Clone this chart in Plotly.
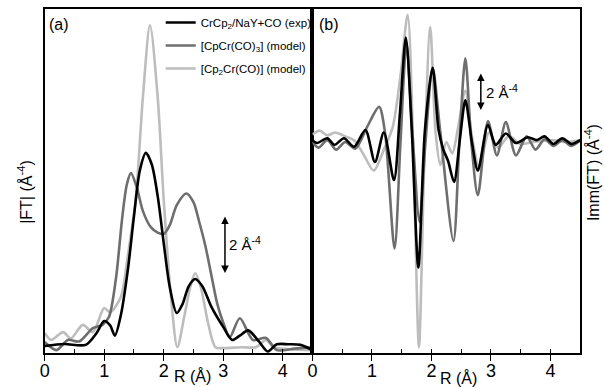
import plotly.graph_objects as go

# ---------------- data ----------------
# Panel (a): |FT|
a_exp_R = [0, 0.33, 0.69, 0.87, 1.0, 1.1, 1.18, 1.28, 1.4, 1.5, 1.6, 1.7, 1.8, 1.9, 2.0, 2.1, 2.22, 2.32, 2.42, 2.53, 2.65, 2.8, 3.0, 3.15, 3.28, 3.42, 3.6, 3.75, 3.9, 4.1, 4.3, 4.5]
a_exp_v = [0.24, 0.31, 0.28, 0.68, 1.1, 0.95, 0.6, 1.3, 2.9, 4.7, 6.3, 6.9, 6.5, 5.4, 3.8, 2.3, 1.38, 1.7, 2.3, 2.55, 2.3, 1.6, 0.9, 0.45, 0.6, 0.78, 0.4, 0.05, 0.3, 0.3, 0.28, 0.1]

a_m1_R = [0, 0.2, 0.39, 0.58, 0.81, 0.97, 1.08, 1.2, 1.3, 1.38, 1.45, 1.55, 1.65, 1.78, 1.9, 2.0, 2.1, 2.22, 2.38, 2.5, 2.6, 2.7, 2.8, 2.9, 3.0, 3.11, 3.28, 3.5, 3.72, 3.9, 4.2, 4.5]
a_m1_v = [0.38, 0.1, 0.45, 0.4, 0.86, 0.97, 1.24, 2.6, 4.6, 5.8, 6.2, 5.7, 4.9, 4.35, 4.15, 4.1, 4.4, 5.1, 5.5, 5.2, 4.5, 3.7, 2.7, 1.7, 1.05, 0.55, 1.2, 0.45, 0.52, 0.1, 0.15, 0.2]

a_m2_R = [0, 0.11, 0.31, 0.44, 0.64, 0.81, 1.0, 1.1, 1.28, 1.4, 1.53, 1.65, 1.77, 1.9, 2.0, 2.12, 2.23, 2.35, 2.45, 2.53, 2.62, 2.75, 2.87, 3.0, 3.3, 3.55, 3.72, 3.85, 4.2, 4.5]
a_m2_v = [0.69, 0.45, 0.72, 0.5, 0.97, 0.72, 1.55, 1.4, 1.93, 3.4, 5.3, 8.8, 11.3, 8.8, 5.3, 2.0, 0.2, 1.3, 2.3, 2.75, 2.3, 1.0, 0.2, 0.17, 0.2, 0.2, 0.45, 0.2, 0.12, 0.1]

# Panel (b): Imm(FT)
b_exp_R = [0, 0.08, 0.25, 0.37, 0.53, 0.7, 0.89, 1.05, 1.2, 1.37, 1.47, 1.57, 1.67, 1.78, 1.89, 2.02, 2.12, 2.2, 2.28, 2.38, 2.48, 2.57, 2.68, 2.78, 2.95, 3.08, 3.25, 3.42, 3.62, 3.77, 3.9, 4.05, 4.2, 4.35, 4.5]
b_exp_v = [0.1, -0.05, 0.2, -0.15, 0.2, -0.25, 0.63, -1.05, 0.5, -2.0, 1.5, 5.5, 0.6, -6.6, 0.6, 3.9, 0.63, -0.4, -1.0, -2.1, 0.2, 2.2, 0.0, -1.5, 0.9, -0.15, 0.45, -0.05, 0.25, 0.1, 0.3, -0.1, 0.2, -0.1, 0.1]

b_m1_R = [0, 0.1, 0.25, 0.4, 0.55, 0.72, 0.92, 1.12, 1.22, 1.38, 1.48, 1.58, 1.68, 1.8, 1.9, 2.02, 2.15, 2.37, 2.47, 2.57, 2.67, 2.78, 2.95, 3.1, 3.25, 3.42, 3.6, 3.75, 3.9, 4.05, 4.2, 4.35, 4.5]
b_m1_v = [0.0, -0.3, 0.1, -0.4, 0.0, -0.35, 0.8, 1.85, 0.5, -5.6, 0.0, 5.2, 0.5, -4.2, 0.0, 3.9, 0.5, -5.2, 0.0, 4.4, 0.0, -2.8, 1.1, -0.7, 1.05, -0.7, 0.3, -0.4, 0.15, -0.2, 0.1, -0.2, 0.1]

b_m2_R = [0, 0.12, 0.25, 0.38, 0.55, 0.7, 0.85, 1.03, 1.2, 1.35, 1.48, 1.6, 1.7, 1.79, 1.88, 1.98, 2.07, 2.15, 2.25, 2.35, 2.45, 2.57, 2.68, 2.8, 2.97, 3.12, 3.3, 3.5, 3.7, 4.0, 4.3, 4.5]
b_m2_v = [0.4, 0.6, 0.35, 0.5, 0.3, 0.1, -0.6, -1.5, -0.4, 0.8, 3.5, 6.7, -1.0, -10.8, -1.0, 6.05, 0.5, -1.2, 0.0, -0.6, 0.8, 2.7, 0.3, -1.3, 0.5, -0.3, 0.3, -0.1, 0.0, 0.1, 0.0, 0.1]

names = ["CrCp<sub>2</sub>/NaY+CO (exp)", "[CpCr(CO)<sub>3</sub>] (model)", "[Cp<sub>2</sub>Cr(CO)] (model)"]
colors = ["#000000", "#6e6e6e", "#bdbdbd"]
x_ticks = [0, 1, 2, 3, 4]

FONT = "Arial, Liberation Sans, sans-serif"
NARROW = "Liberation Sans Narrow, Arial Narrow, Liberation Sans, sans-serif"
W, H = 604, 387

fig = go.Figure()

panel_a = [(a_exp_R, a_exp_v), (a_m1_R, a_m1_v), (a_m2_R, a_m2_v)]
panel_b = [(b_exp_R, b_exp_v), (b_m1_R, b_m1_v), (b_m2_R, b_m2_v)]

for i in [2, 1, 0]:
    fig.add_trace(go.Scatter(x=panel_a[i][0], y=panel_a[i][1], mode="lines", name=names[i],
                             line=dict(color=colors[i], width=2.6, shape="spline", smoothing=0.8),
                             xaxis="x", yaxis="y", showlegend=True, legendrank=i + 1,
                             legendgroup="g%d" % i))
for i in [2, 1, 0]:
    fig.add_trace(go.Scatter(x=panel_b[i][0], y=panel_b[i][1], mode="lines", name=names[i],
                             line=dict(color=colors[i], width=2.6, shape="spline", smoothing=0.8),
                             xaxis="x2", yaxis="y2", showlegend=False, legendgroup="g%d" % i))

def px_x(p):
    return p / W

def px_y(p):
    return 1 - p / H

xa_common = dict(range=[0, 4.5], tickvals=x_ticks, ticktext=[str(t) for t in x_ticks],
                 ticks="outside", ticklen=6, tickwidth=1.3, tickcolor="black",
                 ticklabelstandoff=-5,
                 minor=dict(ticks="inside", ticklen=4, dtick=0.5, tick0=0, tickwidth=1.3, tickcolor="black"),
                 showline=True, linecolor="black", linewidth=1.5, mirror=True,
                 showgrid=False, zeroline=False,
                 tickfont=dict(family=FONT, size=18, color="black"))
ya_common = dict(showline=True, linecolor="black", linewidth=1.5, mirror=True,
                 showgrid=False, zeroline=False, showticklabels=False, ticks="")

fig.update_layout(
    width=W, height=H, margin=dict(l=0, r=0, t=0, b=0),
    paper_bgcolor="white", plot_bgcolor="white",
    xaxis=dict(domain=[px_x(40), px_x(310)], anchor="y", **xa_common),
    yaxis=dict(domain=[px_y(353), px_y(9)], range=[0, 11.86], anchor="x", **ya_common),
    xaxis2=dict(domain=[px_x(310), px_x(580)], anchor="y2", **xa_common),
    yaxis2=dict(domain=[px_y(353), px_y(9)], range=[-11.1, 7.0], anchor="x2", **ya_common),
    legend=dict(x=px_x(157), y=px_y(8), xanchor="left", yanchor="top",
                bgcolor="rgba(0,0,0,0)", borderwidth=0,
                font=dict(family=NARROW, size=11.5, color="black"),
                tracegroupgap=4, itemwidth=30),
    showlegend=True,
    font=dict(family=FONT, color="black"),
)

ann = []
ann.append(dict(text="(a)", x=px_x(42), y=px_y(25), xref="paper", yref="paper",
                xanchor="left", yanchor="middle", showarrow=False, font=dict(size=16, family=FONT)))
ann.append(dict(text="(b)", x=px_x(315), y=px_y(25), xref="paper", yref="paper",
                xanchor="left", yanchor="middle", showarrow=False, font=dict(size=16, family=FONT)))
ann.append(dict(text="R (Å)", x=px_x(168), y=px_y(376), xref="paper", yref="paper",
                xanchor="left", yanchor="middle", showarrow=False, font=dict(size=16, family=FONT)))
ann.append(dict(text="R (Å)", x=px_x(437), y=px_y(378), xref="paper", yref="paper",
                xanchor="left", yanchor="middle", showarrow=False, font=dict(size=16, family=FONT)))
ann.append(dict(text="|FT| (Å<sup>-4</sup>)", x=px_x(20), y=px_y(192), xref="paper", yref="paper",
                textangle=-90, xanchor="center", yanchor="middle", showarrow=False,
                font=dict(size=16, family=FONT)))
ann.append(dict(text="Imm(FT) (Å<sup>-4</sup>)", x=px_x(592), y=px_y(173), xref="paper", yref="paper",
                textangle=-90, xanchor="center", yanchor="middle", showarrow=False,
                font=dict(size=16, family=FONT)))
ann.append(dict(x=3.03, y=2.76, ax=3.03, ay=4.76, xref="x", yref="y", axref="x", ayref="y",
                text="", showarrow=True, arrowhead=2, arrowside="end+start", arrowsize=1,
                arrowwidth=1.5, arrowcolor="black"))
ann.append(dict(text="2 Å<sup>-4</sup>", x=3.07, y=3.76, xref="x", yref="y", xanchor="left",
                yanchor="middle", showarrow=False, font=dict(size=15, family=FONT)))
ann.append(dict(x=2.83, y=1.68, ax=2.83, ay=3.68, xref="x2", yref="y2", axref="x2", ayref="y2",
                text="", showarrow=True, arrowhead=2, arrowside="end+start", arrowsize=1,
                arrowwidth=1.5, arrowcolor="black"))
ann.append(dict(text="2 Å<sup>-4</sup>", x=2.88, y=2.68, xref="x2", yref="y2", xanchor="left",
                yanchor="middle", showarrow=False, font=dict(size=15, family=FONT)))
fig.update_layout(annotations=ann)

fig.write_html("out.html")
